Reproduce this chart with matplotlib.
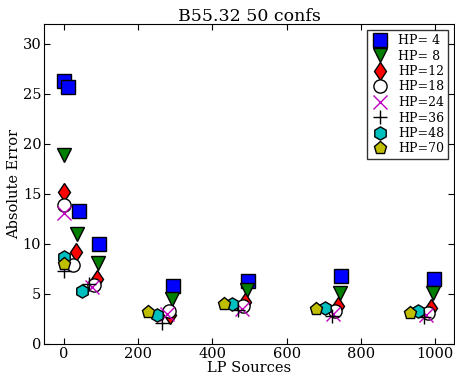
import matplotlib
matplotlib.use("Agg")
import matplotlib.pyplot as plt

plt.rcParams['font.family'] = 'DejaVu Serif'
plt.rcParams['font.size'] = 11

# values (x = LP sources, y = absolute error)
hp_labels = ['HP= 4', 'HP= 8', 'HP=12', 'HP=18', 'HP=24', 'HP=36', 'HP=48', 'HP=70']

x_hp4 = [0, 12, 40, 94, 294, 495, 745, 996]
y_hp4 = [26.3, 25.7, 13.3, 10.0, 5.75, 6.3, 6.8, 6.5]
x_hp8 = [0, 36, 92, 291, 492, 743, 994]
y_hp8 = [18.9, 11.0, 8.1, 4.5, 5.4, 5.1, 5.1]
x_hp12 = [0, 33, 90, 287, 488, 738, 987]
y_hp12 = [15.2, 9.2, 6.5, 2.9, 4.2, 3.8, 3.6]
x_hp18 = [0, 26, 81, 282, 483, 730, 980]
y_hp18 = [13.85, 7.9, 5.9, 3.25, 3.8, 3.3, 3.1]
x_hp24 = [0, 76, 278, 479, 725, 975]
y_hp24 = [13.1, 5.7, 3.0, 3.5, 3.0, 2.9]
x_hp36 = [0, 67, 264, 470, 721, 969]
y_hp36 = [7.3, 6.0, 2.1, 3.4, 2.8, 2.7]
x_hp48 = [0, 49, 250, 452, 703, 953]
y_hp48 = [8.7, 5.25, 2.9, 4.0, 3.6, 3.3]
x_hp70 = [0, 228, 430, 680, 931]
y_hp70 = [8.0, 3.2, 4.0, 3.5, 3.1]

xs = [x_hp4, x_hp8, x_hp12, x_hp18, x_hp24, x_hp36, x_hp48, x_hp70]
ys = [y_hp4, y_hp8, y_hp12, y_hp18, y_hp24, y_hp36, y_hp48, y_hp70]

styles = [
    dict(marker='s', color='#0000ff', mec='k', ms=9.5),
    dict(marker='v', color='#007f00', mec='k', ms=9.5),
    dict(marker='d', color='#ff0000', mec='k', ms=9.5),
    dict(marker='o', color='#ffffff', mec='k', ms=9.5),
    dict(marker='x', color='#bf00bf', mec='#bf00bf', ms=9.5),
    dict(marker='+', color='k', mec='k', ms=9.5),
    dict(marker='h', color='#00bfbf', mec='k', ms=9.5),
    dict(marker='p', color='#bfbf00', mec='k', ms=9.5),
]

fig = plt.figure(figsize=(4.56, 3.75), dpi=100)
ax = fig.add_axes([0.0965, 0.083, 0.899, 0.853])

for x, y, lab, st in zip(xs, ys, hp_labels, styles):
    ax.plot(x, y, linestyle='none', label=lab, mew=1.0, **st)

ax.set_xlim(-53, 1050)
ax.set_ylim(0, 32)
ax.set_xticks([0, 200, 400, 600, 800, 1000])
ax.set_yticks([0, 5, 10, 15, 20, 25, 30])
ax.tick_params(direction='in', top=True, right=True, length=4, labelsize=10.5, pad=2)
ax.set_xlabel('LP Sources', fontsize=10.5, labelpad=0)
ax.set_ylabel('Absolute Error', fontsize=10.5, labelpad=1)
ax.set_title('B55.32 50 confs', fontsize=12.5, pad=2)

leg = ax.legend(loc='upper right', numpoints=1, fontsize=9, frameon=True,
                fancybox=False, borderaxespad=0.5, handletextpad=0.6,
                labelspacing=0.2, borderpad=0.3, handlelength=1.6)
leg.get_frame().set_edgecolor('k')

fig.savefig('out.png', dpi=100)
